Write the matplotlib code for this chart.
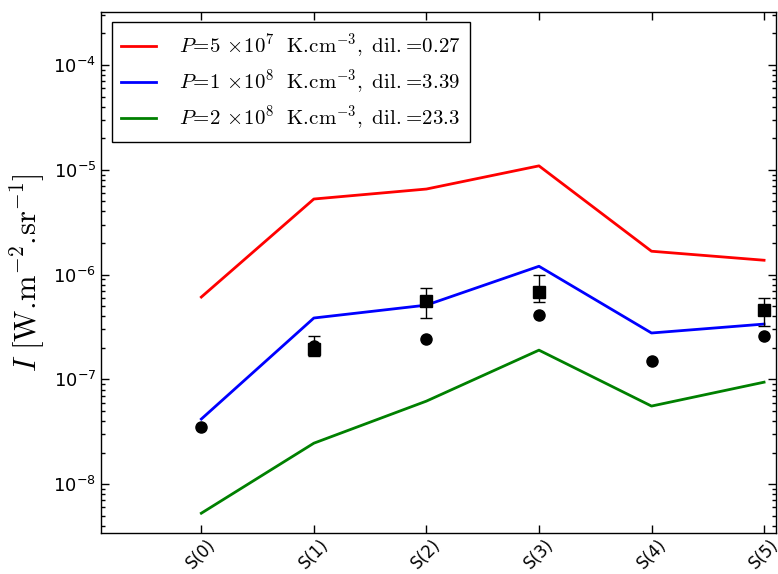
import numpy as np
import matplotlib
matplotlib.use('Agg')
import matplotlib.pyplot as plt
from matplotlib.ticker import FixedLocator, LogLocator, NullFormatter

plt.rcParams['mathtext.fontset'] = 'dejavusans'
plt.rcParams['font.family'] = 'DejaVu Sans'

# line positions S(0)..S(5)
labels = ['S(0)', 'S(1)', 'S(2)', 'S(3)', 'S(4)', 'S(5)']
red = [6.1e-7, 5.26e-6, 6.55e-6, 1.09e-5, 1.67e-6, 1.37e-6]
blue = [4.18e-8, 3.85e-7, 5.11e-7, 1.2e-6, 2.77e-7, 3.37e-7]
green = [5.28e-9, 2.46e-8, 6.2e-8, 1.9e-7, 5.56e-8, 9.4e-8]

circ_x = [0, 1, 2, 3, 4, 5]
circ_y = [3.5e-8, 2.07e-7, 2.42e-7, 4.1e-7, 1.49e-7, 2.59e-7]

sq_x = [1, 2, 3, 5]
sq_y = [1.95e-7, 5.58e-7, 6.81e-7, 4.58e-7]
sq_lo = [1.67e-7, 3.85e-7, 5.47e-7, 3.22e-7]
sq_hi = [2.59e-7, 7.43e-7, 9.9e-7, 5.96e-7]

leg_labels = [r'$P\!=\!5\,\times\!10^{7}\ \ \mathrm{K.\!cm^{-3}},\ \mathrm{dil.}\!=\!0.27$',
              r'$P\!=\!1\,\times\!10^{8}\ \ \mathrm{K.\!cm^{-3}},\ \mathrm{dil.}\!=\!3.39$',
              r'$P\!=\!2\,\times\!10^{8}\ \ \mathrm{K.\!cm^{-3}},\ \mathrm{dil.}\!=\!23.3$']

x = np.arange(len(labels))

fig = plt.figure(figsize=(7.78, 5.74), dpi=100)
ax = fig.add_axes([0.130, 0.071, 0.868, 0.908])

ax.plot(x, red, color='r', lw=2, label=leg_labels[0])
ax.plot(x, blue, color='b', lw=2, label=leg_labels[1])
ax.plot(x, green, color='g', lw=2, label=leg_labels[2])

sq_y = np.array(sq_y)
yerr = [sq_y - np.array(sq_lo), np.array(sq_hi) - sq_y]
ax.errorbar(sq_x, sq_y, yerr=yerr, fmt='ks', ms=8, ecolor='k', elinewidth=1, capsize=4, capthick=1)
ax.plot(circ_x, circ_y, 'ko', ms=8)

ax.set_yscale('log')
ax.set_ylim(3.4e-9, 3.2e-4)
ax.set_xlim(-0.89, 5.11)

ax.set_xticks(x)
ax.set_xticklabels(labels, rotation=45, fontsize=12)
ax.yaxis.set_major_locator(FixedLocator([1e-8, 1e-7, 1e-6, 1e-5, 1e-4]))
ax.set_yticklabels([r'$10^{-8}$', r'$10^{-7}$', r'$10^{-6}$', r'$10^{-5}$', r'$10^{-4}$'], fontsize=13)
ax.yaxis.set_minor_locator(LogLocator(base=10, subs=np.arange(2, 10), numticks=20))
ax.yaxis.set_minor_formatter(NullFormatter())
ax.tick_params(which='both', direction='in', top=True, right=True)
ax.tick_params(which='major', length=6, width=1)
ax.tick_params(which='minor', length=3, width=1)
ax.tick_params(axis='x', pad=2)
for s in ax.spines.values():
    s.set_linewidth(1)

yl = ax.set_ylabel(r'$I\ [\mathrm{W.\!m^{-2}.\!sr^{-1}}]$', fontsize=22, labelpad=4)
yl.set_math_fontfamily('cm')

leg = ax.legend(loc='upper left', fontsize=15, fancybox=False, framealpha=1,
                edgecolor='k', handlelength=1.7, handletextpad=1.1, borderpad=0.45,
                labelspacing=0.38)
leg.get_frame().set_linewidth(1)
for t in leg.get_texts():
    t.set_math_fontfamily('cm')

fig.savefig('out.png', dpi=100)
